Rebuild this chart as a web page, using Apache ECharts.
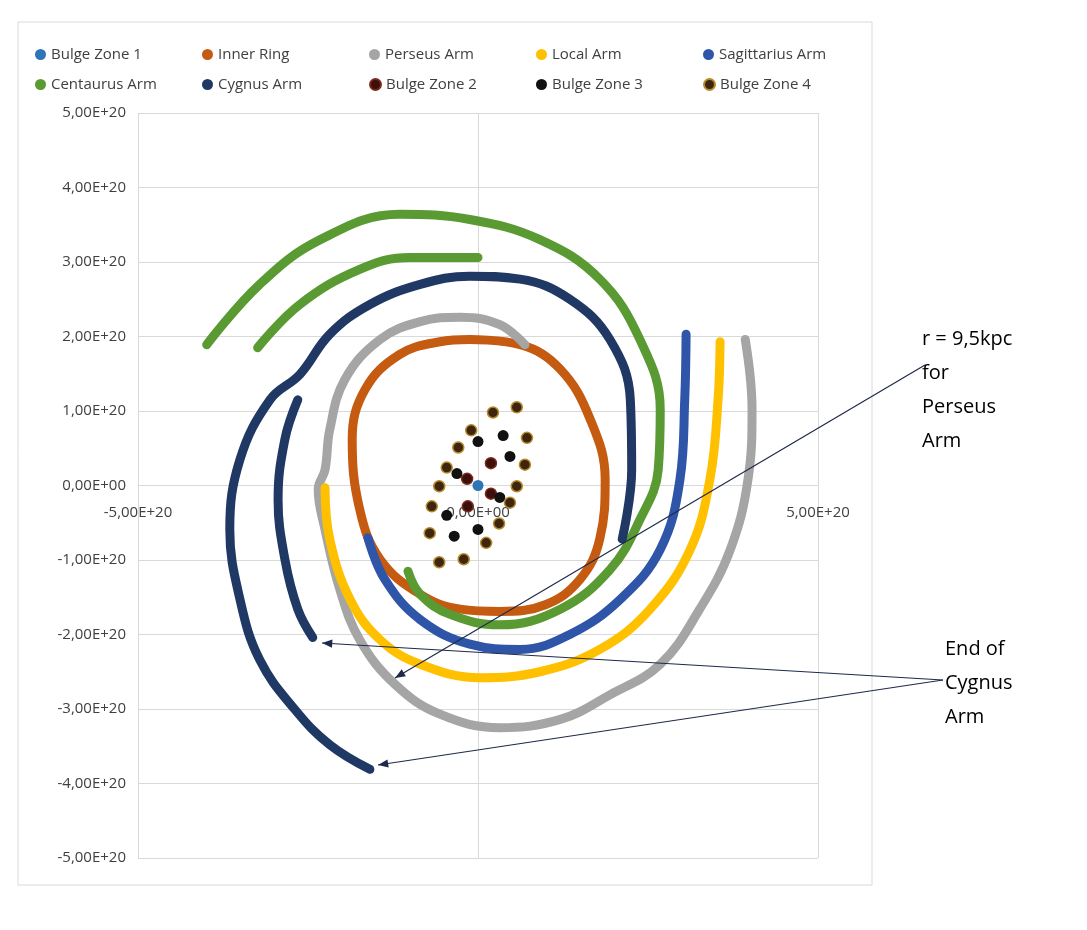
<!DOCTYPE html>
<html>
<head>
<meta charset="utf-8">
<script src="https://cdn.jsdelivr.net/npm/echarts@6/dist/echarts.min.js"></script>
<style>html,body{margin:0;background:#fff}#c{width:1087px;height:930px}</style>
</head>
<body>
<div id="c"></div>
<script>
// values in units of 1E20
const bulge1 = [[0, 0]];
const bulge2 = [[0.19, 0.30], [-0.16, 0.09], [0.19, -0.11], [-0.15, -0.28]];
const bulge3 = [[0, 0.59], [0.37, 0.67], [0.47, 0.39], [-0.31, 0.16], [0.32, -0.16], [-0.46, -0.40], [0, -0.59], [-0.35, -0.68]];
const bulge4 = [[0.22, 0.98], [0.57, 1.05], [-0.10, 0.74], [0.72, 0.64], [-0.29, 0.51], [0.69, 0.28], [-0.46, 0.24],
  [-0.57, -0.01], [0.57, -0.01], [-0.68, -0.28], [0.47, -0.23], [0.31, -0.51], [-0.71, -0.64], [0.12, -0.77],
  [-0.57, -1.03], [-0.21, -0.99]];
const innerRing = [[-0.12, 1.96], [0.62, 1.89], [1.21, 1.56], [1.65, 0.89], [1.87, 0.08], [1.79, -0.72], [1.50, -1.26],
  [0.99, -1.60], [0.32, -1.69], [-0.26, -1.66], [-0.85, -1.46], [-1.44, -0.99], [-1.74, -0.32], [-1.85, 0.62],
  [-1.66, 1.29], [-1.15, 1.76], [-0.56, 1.93], [-0.12, 1.96]];
const perseusArm = [[0.69, 1.89], [0.32, 2.16], [-0.26, 2.26], [-0.85, 2.20], [-1.44, 1.96], [-1.96, 1.42], [-2.18, 0.75],
  [-2.25, 0.21], [-2.35, -0.05], [-2.25, -0.59], [-2.03, -1.40], [-1.74, -2.07], [-1.22, -2.67], [-0.56, -3.07],
  [0.32, -3.25], [1.21, -3.14], [1.94, -2.81], [2.68, -2.40], [3.26, -1.66], [3.71, -0.86], [3.97, 0.08],
  [4.03, 1.02], [3.93, 1.96]];
const localArm = [[-2.25, -0.03], [-2.18, -0.72], [-1.88, -1.53], [-1.44, -2.07], [-0.85, -2.40], [0.03, -2.58],
  [0.91, -2.50], [1.79, -2.20], [2.53, -1.66], [3.12, -0.86], [3.41, 0.08], [3.53, 1.15], [3.56, 1.93]];
const sagittariusArm = [[-1.62, -0.70], [-1.37, -1.26], [-0.85, -1.80], [-0.12, -2.13], [0.62, -2.20], [1.35, -2.00],
  [2.09, -1.53], [2.68, -0.86], [2.97, 0.08], [3.04, 1.15], [3.06, 2.03]];
const centaurusArm = [[-3.99, 1.89], [-3.21, 2.70], [-2.32, 3.30], [-1.15, 3.64], [-0.12, 3.57], [0.91, 3.30],
  [1.79, 2.77], [2.38, 1.96], [2.68, 1.02], [2.65, 0.21], [2.38, -0.46], [1.94, -1.13], [1.21, -1.66],
  [0.32, -1.87], [-0.41, -1.73], [-0.85, -1.46], [-1.03, -1.15], null,
  [-3.24, 1.85], [-2.62, 2.43], [-1.74, 2.90], [-1.00, 3.06], [0, 3.06]];
const cygnusArm = [[2.12, -0.72], [2.26, 0.21], [2.24, 1.15], [1.94, 1.96], [1.35, 2.50], [0.62, 2.77], [-0.12, 2.81],
  [-0.85, 2.70], [-1.59, 2.43], [-2.18, 2.03], [-2.62, 1.49], [-3.06, 1.15], [-3.50, 0.35], [-3.65, -0.59],
  [-3.50, -1.53], [-3.21, -2.34], [-2.69, -3.01], [-2.18, -3.48], [-1.59, -3.81], null,
  [-2.65, 1.15], [-2.84, 0.62], [-2.94, -0.19], [-2.84, -0.99], [-2.65, -1.66], [-2.43, -2.04]];

const names = ['Bulge Zone 1', 'Inner Ring', 'Perseus Arm', 'Local Arm', 'Sagittarius Arm',
  'Centaurus Arm', 'Cygnus Arm', 'Bulge Zone 2', 'Bulge Zone 3', 'Bulge Zone 4'];
const colors = {
  'Bulge Zone 1': '#2e75b6', 'Inner Ring': '#c55a11', 'Perseus Arm': '#a5a5a5', 'Local Arm': '#ffc000',
  'Sagittarius Arm': '#2f55a8', 'Centaurus Arm': '#5a9a32', 'Cygnus Arm': '#1f3864',
  'Bulge Zone 2': '#3d0f0c', 'Bulge Zone 3': '#111111', 'Bulge Zone 4': '#3e2510',
};
const font = '"Open Sans", "Liberation Sans", sans-serif';

function line(name, data) {
  return { name, type: 'line', data, smooth: 0.4, showSymbol: false, symbol: 'circle', connectNulls: false,
    lineStyle: { width: 9, color: colors[name], cap: 'round' }, itemStyle: { color: colors[name] }, z: 2 };
}
function dots(name, data, border) {
  return { name, type: 'scatter', data, symbolSize: 11, z: 5,
    itemStyle: { color: colors[name], opacity: 1, borderColor: border || colors[name], borderWidth: border ? 1.5 : 0 } };
}

const legends = names.map((n, i) => ({
  data: [n], left: 30 + (i % 5) * 167, top: i < 5 ? 42 : 72, icon: 'circle', itemWidth: 11, itemHeight: 11,
  itemGap: 6, textStyle: { fontFamily: font, fontSize: 15, color: '#404040' },
}));

const fmt = (v) => v === 0 ? '0,00E+00' : v.toFixed(2).replace('.', ',') + 'E+20';
const arrow = (x1, y1, x2, y2) => ({
  type: 'line', shape: { x1, y1, x2, y2 }, style: { stroke: '#1f2a4a', lineWidth: 1.2 }, z: 10,
});
const head = (x1, y1, x2, y2) => {
  const a = Math.atan2(y2 - y1, x2 - x1), L = 11, w = 0.38;
  return { type: 'polygon', z: 10, shape: { points: [[x2, y2],
    [x2 - L * Math.cos(a - w), y2 - L * Math.sin(a - w)], [x2 - L * Math.cos(a + w), y2 - L * Math.sin(a + w)]] },
    style: { fill: '#1f2a4a' } };
};

const chart = echarts.init(document.getElementById('c'));
chart.setOption({
  animation: false,
  legend: legends,
  grid: { left: 138, right: 269, top: 113, bottom: 72 },
  xAxis: { type: 'value', min: -5, max: 5, interval: 5, offset: -372.5,
    axisLine: { onZero: false, lineStyle: { color: '#d9d9d9' } }, axisTick: { show: false },
    splitLine: { lineStyle: { color: '#d9d9d9' } },
    axisLabel: { formatter: fmt, fontFamily: font, fontSize: 15, color: '#404040', margin: 20 } },
  yAxis: { type: 'value', min: -5, max: 5, interval: 1,
    axisLine: { onZero: false, show: false }, axisTick: { show: false },
    splitLine: { lineStyle: { color: '#d9d9d9' } },
    axisLabel: { formatter: fmt, fontFamily: font, fontSize: 15, color: '#404040', margin: 12 } },
  series: [
    dots('Bulge Zone 1', bulge1),
    line('Inner Ring', innerRing),
    line('Perseus Arm', perseusArm),
    line('Local Arm', localArm),
    line('Sagittarius Arm', sagittariusArm),
    line('Centaurus Arm', centaurusArm),
    line('Cygnus Arm', cygnusArm),
    dots('Bulge Zone 2', bulge2, '#7a2a1a'),
    dots('Bulge Zone 3', bulge3),
    dots('Bulge Zone 4', bulge4, '#b58a2a'),
  ],
  graphic: [
    { type: 'rect', shape: { x: 18, y: 22, width: 854, height: 863 }, style: { fill: null, stroke: '#d9d9d9', lineWidth: 1 }, z: -1 },
    { type: 'text', left: 922, top: 322, style: { text: 'r = 9,5kpc\nfor\nPerseus\nArm', font: '20px ' + font, fill: '#000', lineHeight: 34 } },
    { type: 'text', left: 945, top: 632, style: { text: 'End of\nCygnus\nArm', font: '20px ' + font, fill: '#000', lineHeight: 34 } },
    arrow(925, 365, 395, 678), head(925, 365, 395, 678),
    arrow(943, 680, 322, 643), head(943, 680, 322, 643),
    arrow(943, 680, 378, 765), head(943, 680, 378, 765),
  ],
});
</script>
</body>
</html>
